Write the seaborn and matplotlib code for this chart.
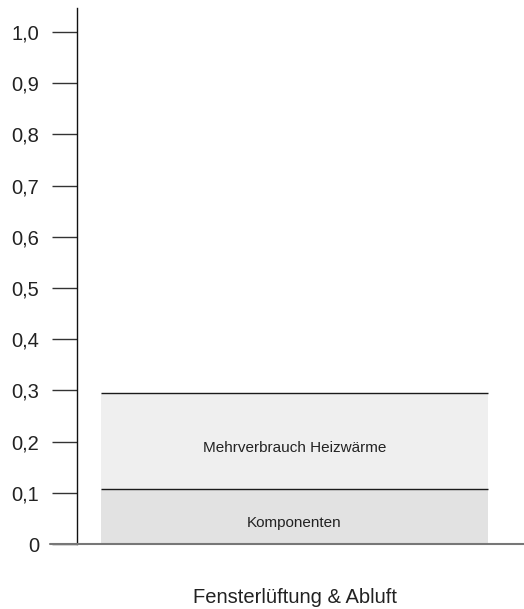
import matplotlib
matplotlib.use("Agg")
import matplotlib.pyplot as plt
import seaborn as sns
import pandas as pd

# Daten
kategorien = ["Fensterlüftung & Abluft"]
komponenten = [0.107]
mehrverbrauch = [0.187]
segment_namen = ["Komponenten", "Mehrverbrauch Heizwärme"]
y_ticks = [0, 0.1, 0.2, 0.3, 0.4, 0.5, 0.6, 0.7, 0.8, 0.9, 1.0]
y_tick_labels = ["0", "0,1", "0,2", "0,3", "0,4", "0,5", "0,6", "0,7", "0,8", "0,9", "1,0"]

sns.set_style("white")
plt.rcParams["font.family"] = ["Liberation Sans", "DejaVu Sans"]

df = pd.DataFrame({"kategorie": kategorien,
                   "komponenten": komponenten,
                   "gesamt": [k + m for k, m in zip(komponenten, mehrverbrauch)]})

fig = plt.figure(figsize=(5.24, 6.09), dpi=100)
W, H = 524, 609
ax = fig.add_axes([76.5 / W, (609 - 544) / H, (524 - 76.5) / W, (544 - 8) / H])

# gestapelte Balken: erst Gesamt, dann unteres Segment
sns.barplot(data=df, x="kategorie", y="gesamt", color="#efefef", width=0.8,
            saturation=1, ax=ax, linewidth=0)
sns.barplot(data=df, x="kategorie", y="komponenten", color="#e2e2e2", width=0.8,
            saturation=1, ax=ax, linewidth=0)

# schwarze Linien an den Oberkanten der Segmente + Beschriftungen
unten = 0
for p, name in zip(ax.patches[::-1], segment_namen):
    x0 = p.get_x()
    x1 = x0 + p.get_width()
    top = p.get_height()
    ax.plot([x0, x1], [top, top], color="#1a1a1a", lw=1.0, solid_capstyle="butt")
    ax.text((x0 + x1) / 2, (unten + top) / 2 - 0.013, name, ha="center", va="center",
            fontsize=11, color="#222222")
    unten = top

ax.set_xlim(-0.4505, 0.474)
ax.set_ylim(0, 1.047)
ax.set_yticks(y_ticks)
ax.set_yticklabels(y_tick_labels)
ax.set_xlabel("")
ax.set_ylabel("")

for s in ["top", "right", "bottom"]:
    ax.spines[s].set_visible(False)
ax.spines["left"].set_color("#111111")
ax.spines["left"].set_linewidth(1.0)

ax.tick_params(axis="y", left=True, direction="out", length=18, width=1.0, color="#333333",
               labelsize=14.5, labelcolor="#222222", pad=9)
ax.tick_params(axis="x", bottom=False, length=0, labelsize=14.5, labelcolor="#222222", pad=32)

# Grundlinie, nach links bis zum Tick-Anfang verlängert
ax.plot([(50 - 76.5) / (524 - 76.5), 1], [0, 0], transform=ax.transAxes,
        color="#777777", lw=1.5, clip_on=False, zorder=5)

fig.savefig("out.png", dpi=100)
